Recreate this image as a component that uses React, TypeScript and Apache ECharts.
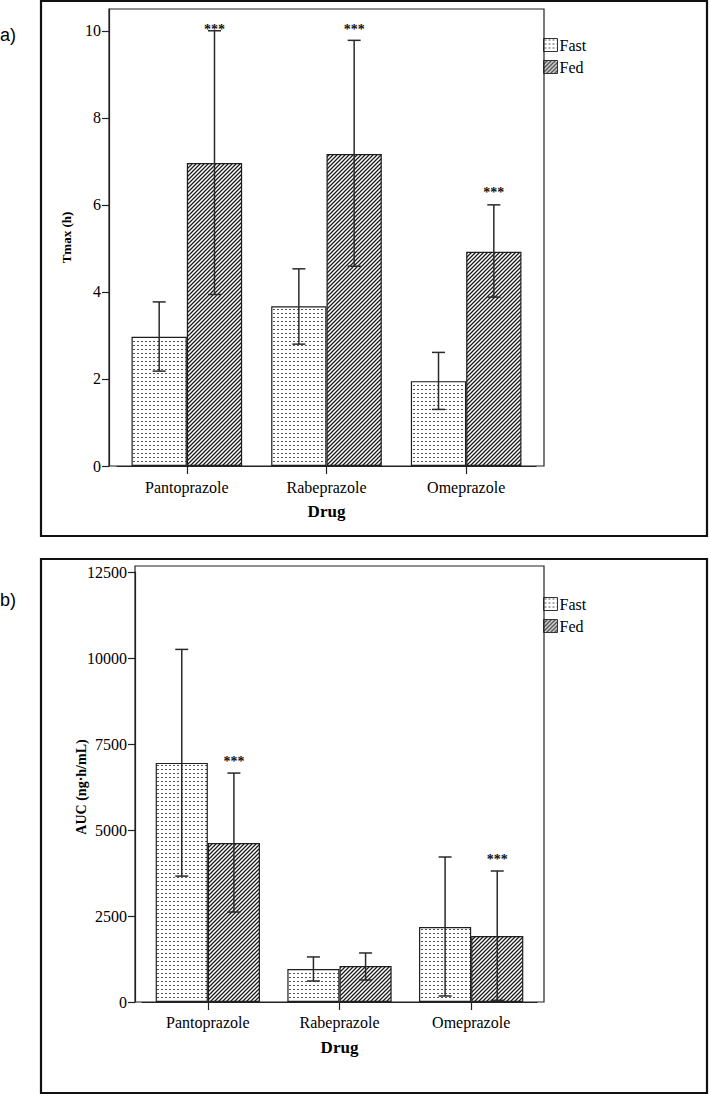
import React, { useEffect, useRef } from 'react';
import * as echarts from 'echarts';

// ---------- data ----------
const drugs = ['Pantoprazole', 'Rabeprazole', 'Omeprazole'];
const seriesNames = ['Fast', 'Fed'];

// Panel a: Tmax (h)
const tmaxFast = [2.97, 3.67, 1.95];
const tmaxFastLow = [2.18, 2.8, 1.3];
const tmaxFastHigh = [3.77, 4.53, 2.61];
const tmaxFed = [6.96, 7.17, 4.92];
const tmaxFedLow = [3.94, 4.59, 3.88];
const tmaxFedHigh = [10.0, 9.78, 6.0];
const tmaxFedSig = [1, 1, 1];
const tmaxTicks = [0, 2, 4, 6, 8, 10];

// Panel b: AUC (ng·h/mL)
const aucFast = [6950, 960, 2180];
const aucFastLow = [3660, 610, 175];
const aucFastHigh = [10250, 1310, 4215];
const aucFed = [4620, 1045, 1920];
const aucFedLow = [2615, 640, 50];
const aucFedHigh = [6655, 1425, 3808];
const aucFedSig = [1, 0, 1];
const aucTicks = [0, 2500, 5000, 7500, 10000, 12500];

// ---------- layout ----------
const BAR_FRAC = 0.396;
const SERIF = 'Liberation Serif';

function makePattern(kind: 'dots' | 'hatch') {
  const c = document.createElement('canvas');
  c.width = 4;
  c.height = 4;
  const ctx = c.getContext('2d')!;
  ctx.fillStyle = '#ffffff';
  ctx.fillRect(0, 0, 4, 4);
  if (kind === 'dots') {
    ctx.fillStyle = '#555555';
    ctx.fillRect(1, 1, 2, 1);
  } else {
    ctx.strokeStyle = '#1a1a1a';
    ctx.lineWidth = 1.25;
    ctx.beginPath();
    ctx.moveTo(-1, 5);
    ctx.lineTo(5, -1);
    ctx.moveTo(-1, 1);
    ctx.lineTo(1, -1);
    ctx.moveTo(3, 5);
    ctx.lineTo(5, 3);
    ctx.stroke();
  }
  return { image: c.toDataURL(), repeat: 'repeat', imageWidth: 4, imageHeight: 4 };
}

function errRenderer(side: number) {
  return (params: any, api: any) => {
    const i = api.value(0);
    const lo = api.value(1);
    const hi = api.value(2);
    const sig = api.value(3);
    const band = api.size([1, 0])[0];
    const pHi = api.coord([i, hi]);
    const pLo = api.coord([i, lo]);
    const x = pHi[0] + (side * band * BAR_FRAC) / 2;
    const cap = 6.5;
    const style = { stroke: '#2a2a2a', lineWidth: 1.5 };
    const children: any[] = [
      { type: 'line', shape: { x1: x, y1: pHi[1], x2: x, y2: pLo[1] }, style },
      { type: 'line', shape: { x1: x - cap, y1: pHi[1], x2: x + cap, y2: pHi[1] }, style },
      { type: 'line', shape: { x1: x - cap, y1: pLo[1], x2: x + cap, y2: pLo[1] }, style },
    ];
    if (sig) {
      const cs = params.coordSys;
      const ty = Math.max(pHi[1] - 12, cs.y + 20);
      children.push({
        type: 'text',
        style: {
          text: '***',
          x,
          y: ty,
          align: 'center',
          verticalAlign: 'middle',
          fontFamily: SERIF,
          fontSize: 14,
          fontWeight: 'bold',
          fill: '#111',
        },
      });
    }
    return { type: 'group', children };
  };
}

export default function App() {
  const ref = useRef<HTMLDivElement>(null);

  useEffect(() => {
    if (!ref.current) return;
    const chart = echarts.init(ref.current, undefined, { renderer: 'svg' });
    const dots = makePattern('dots');
    const hatch = makePattern('hatch');

    const gridA = { left: 117, top: 9, width: 419, height: 457 };
    const gridB = { left: 142, top: 572, width: 395, height: 430 };

    const axisLineStyle = { color: '#222', width: 1.2 };

    const xAxisCommon = (gridIndex: number, margin: number) => ({
      type: 'category',
      gridIndex,
      data: drugs,
      axisLine: { show: true, lineStyle: axisLineStyle },
      axisTick: { show: true, alignWithLabel: true, length: 8, lineStyle: axisLineStyle },
      axisLabel: { fontFamily: SERIF, fontSize: 16, color: '#000', margin },
      splitLine: { show: false },
      name: 'Drug',
      nameLocation: 'middle',
      nameGap: 37,
      nameMoveOverlap: false,
      nameTextStyle: { fontFamily: SERIF, fontSize: 17, fontWeight: 'bold', color: '#000' },
    });

    const yAxisCommon = (gridIndex: number, max: number, ticks: number[], name: string, offset: number, nameGap: number, nameSize: number) => ({
      type: 'value',
      gridIndex,
      min: 0,
      max,
      offset,
      axisLine: { show: true, lineStyle: axisLineStyle },
      axisTick: { show: true, length: 7, lineStyle: axisLineStyle, customValues: ticks },
      axisLabel: {
        fontFamily: SERIF,
        fontSize: 16,
        color: '#000',
        margin: 8,
        customValues: ticks,
        formatter: (v: number) => String(v),
      },
      splitLine: { show: false },
      name,
      nameLocation: 'middle',
      nameGap,
      nameRotate: 90,
      nameMoveOverlap: false,
      nameTextStyle: { fontFamily: SERIF, fontSize: nameSize, fontWeight: 'bold', color: '#000' },
    });

    const barSeries = (name: string, axis: number, data: number[], pattern: any) => ({
      type: 'bar',
      name,
      xAxisIndex: axis,
      yAxisIndex: axis,
      data,
      barWidth: BAR_FRAC * 100 + '%',
      barGap: '0%',
      itemStyle: { color: pattern, borderColor: '#1e1e1e', borderWidth: 1.2 },
      emphasis: { disabled: true },
      z: 2,
    });

    const errSeries = (axis: number, lo: number[], hi: number[], sig: number[], side: number) => ({
      type: 'custom',
      xAxisIndex: axis,
      yAxisIndex: axis,
      data: drugs.map((_, i) => [i, lo[i], hi[i], sig[i]]),
      encode: { x: 0, y: [1, 2] },
      renderItem: errRenderer(side),
      silent: true,
      z: 5,
    });

    const legendCommon = (top: number) => ({
      data: seriesNames,
      left: 543,
      top,
      orient: 'vertical',
      icon: 'rect',
      itemWidth: 14,
      itemHeight: 13,
      itemGap: 6,
      padding: 0,
      selectedMode: false,
      itemStyle: { borderColor: '#333', borderWidth: 1 },
      textStyle: { fontFamily: SERIF, fontSize: 16, color: '#000', padding: [0, 0, 0, -3] },
    });

    const frame = (g: any, padTop: number, padSide: number) => ({
      type: 'rect',
      shape: {
        x: g.left - padSide,
        y: g.top - padTop,
        width: g.width + 2 * padSide,
        height: g.height + padTop,
      },
      style: { fill: 'none', stroke: '#222', lineWidth: 1.2 },
      silent: true,
      z: 10,
    });

    chart.setOption({
      animation: false,
      textStyle: { fontFamily: SERIF },
      grid: [gridA, gridB],
      xAxis: [xAxisCommon(0, 13), xAxisCommon(1, 12)],
      yAxis: [
        yAxisCommon(0, 10.5, tmaxTicks, 'Tmax (h)', 8, 36, 13),
        yAxisCommon(1, 12500, aucTicks, 'AUC (ng·h/mL)', 7, 47, 14),
      ],
      legend: [legendCommon(37), legendCommon(596)],
      series: [
        barSeries('Fast', 0, tmaxFast, dots),
        barSeries('Fed', 0, tmaxFed, hatch),
        errSeries(0, tmaxFastLow, tmaxFastHigh, [0, 0, 0], -1),
        errSeries(0, tmaxFedLow, tmaxFedHigh, tmaxFedSig, 1),
        barSeries('Fast', 1, aucFast, dots),
        barSeries('Fed', 1, aucFed, hatch),
        errSeries(1, aucFastLow, aucFastHigh, [0, 0, 0], -1),
        errSeries(1, aucFedLow, aucFedHigh, aucFedSig, 1),
      ],
      graphic: [
        frame(gridA, 0, 8),
        frame(gridB, 6, 7),
        {
          type: 'rect',
          shape: { x: 41, y: 1, width: 666, height: 535 },
          style: { fill: 'none', stroke: '#111', lineWidth: 2.2 },
          silent: true,
        },
        {
          type: 'rect',
          shape: { x: 41, y: 559, width: 666, height: 534 },
          style: { fill: 'none', stroke: '#111', lineWidth: 2.2 },
          silent: true,
        },
        {
          type: 'text',
          style: { text: 'a)', x: 0, y: 35, verticalAlign: 'middle', fontFamily: 'Liberation Sans', fontSize: 18, fill: '#000' },
        },
        {
          type: 'text',
          style: { text: 'b)', x: 0, y: 600, verticalAlign: 'middle', fontFamily: 'Liberation Sans', fontSize: 18, fill: '#000' },
        },
      ],
    });

    return () => {
      chart.dispose();
    };
  }, []);

  return (
    <div
      ref={ref}
      style={{ position: 'absolute', left: 0, top: 0, width: 711, height: 1096, background: '#fff' }}
    />
  );
}
